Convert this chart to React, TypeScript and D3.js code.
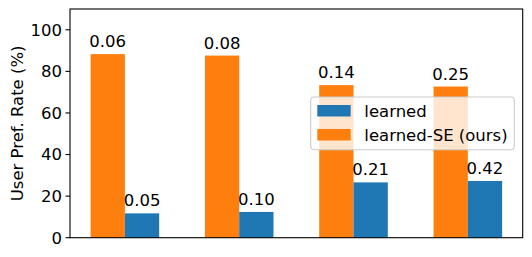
import React from 'react';
import * as d3 from 'd3';

// values
const groups = [0, 1, 2, 3];
const learned = [11.7, 12.4, 26.6, 27.3];
const learnedSE = [88.3, 87.6, 73.4, 72.7];
const learnedText = ['0.05', '0.10', '0.21', '0.42'];
const learnedSEText = ['0.06', '0.08', '0.14', '0.25'];
const yTicks = [0, 20, 40, 60, 80, 100];
const legendNames = ['learned', 'learned-SE (ours)'];

const BLUE = '#1f77b4';
const ORANGE = '#ff7f0e';
const FONT = 'DejaVu Sans, sans-serif';

export default function App() {
  const W = 532, H = 257;
  const margin = {top: 9, right: 9.3, bottom: 19.3, left: 70};
  const barW = 0.3;

  const x = d3.scaleLinear()
    .domain([-0.48, 3.48])
    .range([margin.left, W - margin.right]);
  const y = d3.scaleLinear()
    .domain([0, 110])
    .range([H - margin.bottom, margin.top]);

  const bw = x(barW) - x(0);
  const fs = 16.5;

  // legend box
  const lg = {x: 310.7, y: 97, w: 203.6, h: 52.7};

  return (
    <svg width={W} height={H} style={{position: 'absolute', left: 0, top: 0, background: '#fff'}}
      fontFamily={FONT}>
      {/* bars */}
      {groups.map((g, i) => (
        <g key={g}>
          <rect x={x(g - barW)} y={y(learnedSE[i])} width={bw} height={y(0) - y(learnedSE[i])} fill={ORANGE} />
          <rect x={x(g)} y={y(learned[i])} width={bw} height={y(0) - y(learned[i])} fill={BLUE} />
          <text x={x(g - barW / 2)} y={y(learnedSE[i]) - 7} textAnchor="middle" fontSize={fs}>{learnedSEText[i]}</text>
          <text x={x(g + barW / 2)} y={y(learned[i]) - 7} textAnchor="middle" fontSize={fs}>{learnedText[i]}</text>
        </g>
      ))}

      {/* y axis ticks */}
      {yTicks.map(t => (
        <g key={t} transform={`translate(${margin.left},${y(t)})`}>
          <line x1={-4.5} x2={0} stroke="#000" strokeWidth={1.1} />
          <text x={-8} dy="0.36em" textAnchor="end" fontSize={fs}>{t}</text>
        </g>
      ))}

      <text transform={`translate(23,${(margin.top + H - margin.bottom) / 2}) rotate(-90)`}
        textAnchor="middle" fontSize={fs}>User Pref. Rate (%)</text>

      {/* frame */}
      <rect x={margin.left} y={margin.top} width={W - margin.left - margin.right}
        height={H - margin.top - margin.bottom} fill="none" stroke="#000" strokeWidth={1.1} />

      {/* legend */}
      <rect x={lg.x} y={lg.y} width={lg.w} height={lg.h} rx={3.5} fill="#fff" fillOpacity={0.8}
        stroke="#cccccc" strokeWidth={1.1} />
      {legendNames.map((n, i) => (
        <g key={n} transform={`translate(${lg.x + 6.6},${lg.y + 8 + i * 24})`}>
          <rect width={33.4} height={11.5} fill={i === 0 ? BLUE : ORANGE} />
          <text x={47} y={5.75} dy="0.36em" fontSize={fs}>{n}</text>
        </g>
      ))}
    </svg>
  );
}
